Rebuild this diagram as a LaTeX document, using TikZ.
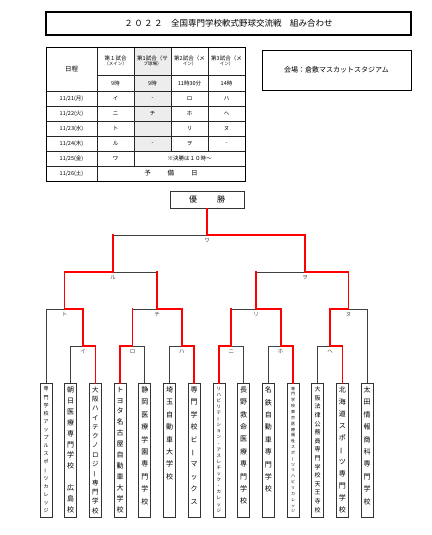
\documentclass[tikz,border=0pt]{standalone}
\usepackage{fontspec}
\setmainfont{Noto Sans CJK JP}
\usetikzlibrary{calc}
\newcommand{\vb}{\rotatebox[origin=c]{90}{ー}}
\begin{document}
\begin{tikzpicture}[x=1pt,y=-1pt,
  bline/.style={draw=black!75, line width=0.8pt},
  wline/.style={draw=red, line width=1.8pt, line cap=rect, line join=miter},
  tline/.style={draw=black!85, line width=0.6pt},
  lbl/.style={font=\fontsize{5.5}{6}\selectfont, text=black!70, inner sep=0},
  cell/.style={font=\fontsize{5.5}{6.5}\selectfont, inner sep=0, align=center},
  teambox/.style={draw=black!80, line width=0.8pt, minimum width=12pt, minimum height=134pt, anchor=north, inner sep=0},
  tname/.style n args={2}{anchor=north, align=center, inner sep=0, font=\fontsize{#1}{#2}\selectfont}
]
\useasboundingbox (0,0) rectangle (431,535);
\fill[white] (0,0) rectangle (431,535);

% title
\node[draw=black, line width=1.1pt, minimum width=365pt, minimum height=23pt, inner sep=0,
  font=\fontsize{8.5}{9}\selectfont] (title) at (228.5,23.5)
  {２\,０\,２\,２　全国専門学校軟式野球交流戦　組み合わせ};

% venue
\node[draw=black, line width=0.9pt, minimum width=149pt, minimum height=40pt, inner sep=0,
  font=\fontsize{7}{8}\selectfont] (venue) at (336.5,70) {会場：倉敷マスカットスタジアム};

% table
\fill[black!7] (134,47) rectangle (171,151);
\draw[tline] (97,75) -- (245,75);
\foreach \yy in {91,106,121,136,151,166} \draw[tline] (46,\yy) -- (245,\yy);
\draw[tline] (97,47) -- (97,181);
\draw[tline] (134,47) -- (134,166);
\draw[tline] (171,47) -- (171,151);
\draw[tline] (208,47) -- (208,151);
\draw[black, line width=0.9pt] (46,47) rectangle (245,181);

\node[cell, font=\fontsize{6.5}{7}\selectfont] (hd0) at (71.5,69) {日程};
\node[cell] (hd1) at (115.5,61) {第１試合\\[-1pt]{\fontsize{4.5}{5}\selectfont （メイン）}};
\node[cell] (hd2) at (152.5,61) {第1試合（サ\\[-1pt]{\fontsize{4.5}{5}\selectfont ブ球場）}};
\node[cell] (hd3) at (189.5,61) {第2試合（メ\\[-1pt]{\fontsize{4.5}{5}\selectfont イン）}};
\node[cell] (hd4) at (226.5,61) {第3試合（メ\\[-1pt]{\fontsize{4.5}{5}\selectfont イン）}};
\node[cell] at (115.5,83) {9時};
\node[cell] at (152.5,83) {9時};
\node[cell] at (189.5,83) {11時30分};
\node[cell] at (226.5,83) {14時};

\node[cell] at (71.5,98.5) {11/21(月)};
\node[cell] at (115.5,98.5) {イ};
\node[cell] at (152.5,98.5) {-};
\node[cell] at (189.5,98.5) {ロ};
\node[cell] at (226.5,98.5) {ハ};

\node[cell] at (71.5,113.5) {11/22(火)};
\node[cell] at (115.5,113.5) {ニ};
\node[cell] at (152.5,113.5) {チ};
\node[cell] at (189.5,113.5) {ホ};
\node[cell] at (226.5,113.5) {ヘ};

\node[cell] at (71.5,128.5) {11/23(水)};
\node[cell] at (115.5,128.5) {ト};
\node[cell] at (189.5,128.5) {リ};
\node[cell] at (226.5,128.5) {ヌ};

\node[cell] at (71.5,143.5) {11/24(木)};
\node[cell] at (115.5,143.5) {ル};
\node[cell] at (152.5,143.5) {-};
\node[cell] at (189.5,143.5) {ヲ};
\node[cell] at (226.5,143.5) {-};

\node[cell] at (71.5,158.5) {11/25(金)};
\node[cell] at (115.5,158.5) {ワ};
\node[cell] at (189.5,158.5) {※決勝は１０時～};

\node[cell] at (71.5,173.5) {11/26(土)};
\node[cell, font=\fontsize{6.5}{7}\selectfont] at (171,173.5) {予\hspace{17pt}備\hspace{17pt}日};

% champion
\node[draw=black!80, line width=1pt, minimum width=74pt, minimum height=17pt, inner sep=0,
  font=\fontsize{8}{9}\selectfont] (champ) at (207,199.5) {優\hspace{20pt}勝};

% team boxes
\node[teambox] (t1) at (46,383) {};
\node[teambox] (t2) at (70.7,383) {};
\node[teambox] (t3) at (95.4,383) {};
\node[teambox] (t4) at (120.1,383) {};
\node[teambox] (t5) at (144.8,383) {};
\node[teambox] (t6) at (169.5,383) {};
\node[teambox] (t7) at (194.2,383) {};
\node[teambox] (t8) at (218.9,383) {};
\node[teambox] (t9) at (243.6,383) {};
\node[teambox] (t10) at (268.3,383) {};
\node[teambox] (t11) at (293,383) {};
\node[teambox] (t12) at (317.7,383) {};
\node[teambox] (t13) at (342.4,383) {};
\node[teambox] (t14) at (367.1,383) {};

\node[tname={5}{8.1}] at ($(t1.north)+(0,3.5)$) {専\\門\\学\\校\\ア\\ッ\\プ\\ル\\ス\\ポ\\\vb\\ツ\\カ\\レ\\ッ\\ジ};
\node[tname={7}{10.9}] at ($(t2.north)+(0,3.5)$) {朝\\日\\医\\療\\専\\門\\学\\校\\　\\広\\島\\校};
\node[tname={6.5}{9.3}] at ($(t3.north)+(0,3.5)$) {大\\阪\\ハ\\イ\\テ\\ク\\ノ\\ロ\\ジ\\\vb\\専\\門\\学\\校};
\node[tname={7}{10.9}] at ($(t4.north)+(0,3.5)$) {ト\\ヨ\\タ\\名\\古\\屋\\自\\動\\車\\大\\学\\校};
\node[tname={7}{12.4}] at ($(t5.north)+(0,3.5)$) {静\\岡\\医\\療\\学\\園\\専\\門\\学\\校};
\node[tname={7}{12.4}] at ($(t6.north)+(0,3.5)$) {埼\\玉\\自\\動\\車\\大\\学\\校};
\node[tname={7}{12.4}] at ($(t7.north)+(0,3.5)$) {専\\門\\学\\校\\ビ\\\vb\\マ\\ッ\\ク\\ス};
\node[tname={4.5}{6.1}] at ($(t8.north)+(0,3.5)$) {リ\\ハ\\ビ\\リ\\テ\\\vb\\シ\\ョ\\ン\\・\\ア\\ス\\レ\\チ\\ッ\\ク\\・\\カ\\レ\\ッ\\ジ};
\node[tname={7}{12.4}] at ($(t9.north)+(0,3.5)$) {長\\野\\救\\命\\医\\療\\専\\門\\学\\校};
\node[tname={7}{12.4}] at ($(t10.north)+(0,3.5)$) {名\\鉄\\自\\動\\車\\専\\門\\学\\校};
\node[tname={4}{5.85}] at ($(t11.north)+(0,3.5)$) {専\\門\\学\\校\\東\\京\\医\\療\\福\\祉\\ス\\ポ\\\vb\\ツ\\リ\\ハ\\ビ\\リ\\カ\\レ\\ッ\\ジ};
\node[tname={6}{8.6}] at ($(t12.north)+(0,3.5)$) {大\\阪\\法\\律\\公\\務\\員\\専\\門\\学\\校\\天\\王\\寺\\校};
\node[tname={7}{12}] at ($(t13.north)+(0,3.5)$) {北\\海\\道\\ス\\ポ\\\vb\\ツ\\専\\門\\学\\校};
\node[tname={7}{12.4}] at ($(t14.north)+(0,3.5)$) {太\\田\\情\\報\\商\\科\\専\\門\\学\\校};

% match points
\coordinate (mI) at (83,346);
\coordinate (mRo) at (132.5,346);
\coordinate (mHa) at (181.9,346);
\coordinate (mNi) at (231.3,346);
\coordinate (mHo) at (280.7,346);
\coordinate (mHe) at (330,346);
\coordinate (mTo) at (64.5,309);
\coordinate (mChi) at (157.2,309);
\coordinate (mRi) at (256,309);
\coordinate (mNu) at (348.5,309);
\coordinate (mRu) at (113,272);
\coordinate (mWo) at (305,272);
\coordinate (mWa) at (207,235);

% losing lines
\draw[bline] (t1.north) |- (mTo);
\draw[bline] (t2.north) |- (mI);
\draw[bline] (t5.north) |- (mRo);
\draw[bline] (t6.north) |- (mHa);
\draw[bline] (t9.north) |- (mNi);
\draw[bline] (t10.north) |- (mHo);
\draw[bline] (t12.north) |- (mHe);
\draw[bline] (t14.north) |- (mNu);
\draw[bline] (mRo |- mChi) -- (mChi);
\draw[bline] (mChi |- mRu) -- (mRu);
\draw[bline] (mNi |- mRi) -- (mRi);
\draw[bline] (mRi |- mWo) -- (mWo);
\draw[bline] (mRu |- mWa) -- (mWa);

% winning lines
\draw[wline] (t3.north) |- (mI);
\draw[wline] (t4.north) |- (mRo);
\draw[wline] (t7.north) |- (mHa);
\draw[wline] (t8.north) |- (mNi);
\draw[wline] (t11.north) |- (mHo);
\draw[wline] (t13.north) |- (mHe);
\draw[wline] (mI) |- (mTo);
\draw[wline] (mRo) -- (mRo |- mChi);
\draw[wline] (mHa) |- (mChi);
\draw[wline] (mTo) |- (mRu);
\draw[wline] (mChi) -- (mChi |- mRu);
\draw[wline] (mNi) -- (mNi |- mRi);
\draw[wline] (mHo) |- (mRi);
\draw[wline] (mHe) |- (mNu);
\draw[wline] (mRi) -- (mRi |- mWo);
\draw[wline] (mNu) |- (mWo);
\draw[wline] (mRu) -- (mRu |- mWa);
\draw[wline] (mWo) |- (mWa);
\draw[wline] (mWa) -- (champ.south);

% match labels
\node[lbl] at ($(mI)+(0,5.5)$) {イ};
\node[lbl] at ($(mRo)+(0,5.5)$) {ロ};
\node[lbl] at ($(mHa)+(0,5.5)$) {ハ};
\node[lbl] at ($(mNi)+(0,5.5)$) {ニ};
\node[lbl] at ($(mHo)+(0,5.5)$) {ホ};
\node[lbl] at ($(mHe)+(0,5.5)$) {ヘ};
\node[lbl] at ($(mTo)+(0,5.5)$) {ト};
\node[lbl] at ($(mChi)+(0,5.5)$) {チ};
\node[lbl] at ($(mRi)+(0,5.5)$) {リ};
\node[lbl] at ($(mNu)+(0,5.5)$) {ヌ};
\node[lbl] at ($(mRu)+(0,5.5)$) {ル};
\node[lbl] at ($(mWo)+(0,5.5)$) {ヲ};
\node[lbl] at ($(mWa)+(0,5.5)$) {ワ};
\end{tikzpicture}
\end{document}
